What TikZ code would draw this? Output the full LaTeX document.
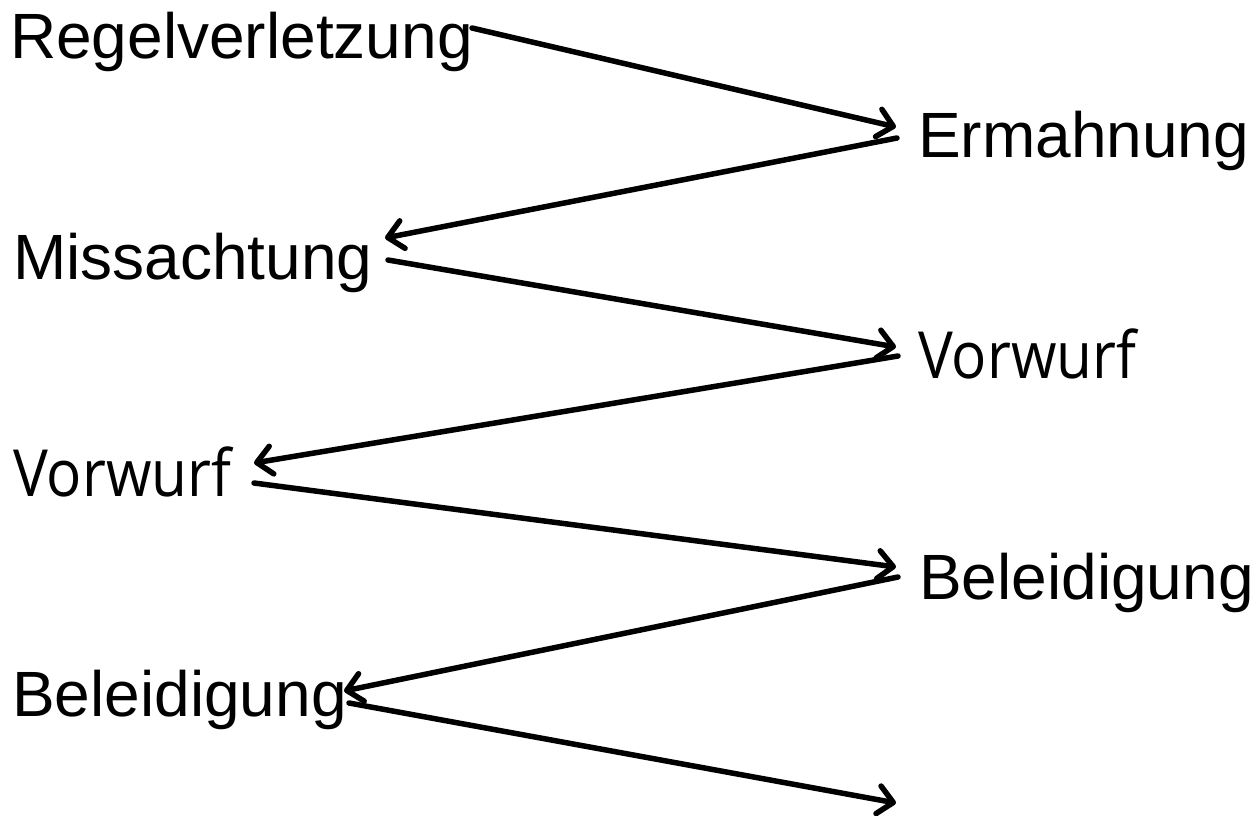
\documentclass[tikz,border=0pt]{standalone}
\usepackage{fontspec}
\setmainfont{Liberation Sans}
\newfontfamily\vwfont[FakeStretch=0.9]{Open Sans}
\usetikzlibrary{arrows.meta,calc}
\begin{document}
\begin{tikzpicture}[x=1pt,y=-1pt,
  lbl/.style={anchor=base west, inner sep=0pt, font=\fontsize{64}{70}\selectfont},
  vw/.style={anchor=base west, inner sep=0pt, font=\vwfont\fontsize{65}{70}\selectfont},
  conn/.style={line width=5.5pt, line cap=round, line join=round, -{Straight Barb[length=15pt,width=28pt,round]}}]
\useasboundingbox (0,0) rectangle (1256,816);
\node[lbl] (R) at (10,59) {Regelverletzung};
\node[lbl] (E) at (918,157) {Ermahnung};
\node[lbl] (M) at (13,279) {Missachtung};
\node[vw] (V2) at (918,378) {Vorwurf};
\node[vw] (V1) at (13,496) {Vorwurf};
\node[lbl] (B2) at (919,599) {Beleidigung};
\node[lbl] (B1) at (12,716) {Beleidigung};
\coordinate (end) at (896,803);
\draw[conn] ($(R.base west)+(462,-31)$) -- ($(E.base west)+(-22,-30)$);
\draw[conn] ($(E.base west)+(-21,-19)$) -- ($(M.base west)+(372,-41)$);
\draw[conn] ($(M.base west)+(375,-19)$) -- ($(V2.base west)+(-22,-31)$);
\draw[conn] ($(V2.base west)+(-20,-22)$) -- ($(V1.base west)+(241,-33)$);
\draw[conn] ($(V1.base west)+(241,-13)$) -- ($(B2.base west)+(-23,-32)$);
\draw[conn] ($(B2.base west)+(-21,-22)$) -- ($(B1.base west)+(332,-25)$);
\draw[conn] ($(B1.base west)+(337,-13)$) -- (end);
\end{tikzpicture}
\end{document}
